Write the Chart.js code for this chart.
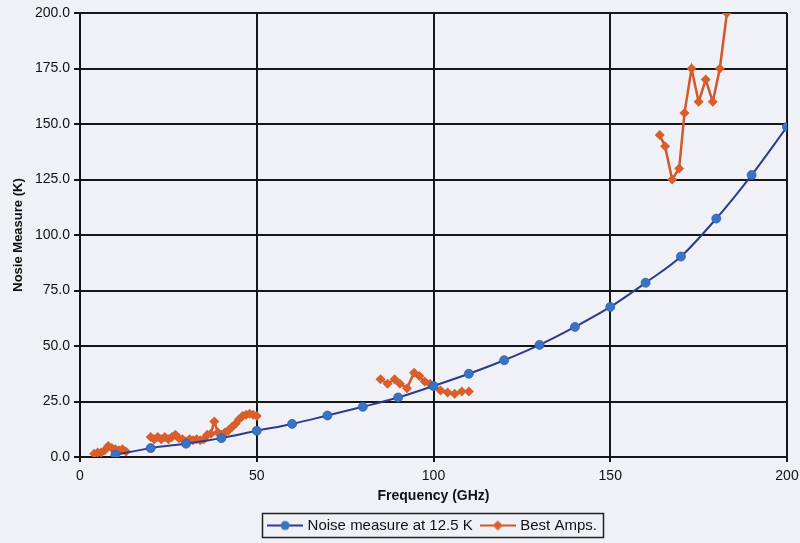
<!DOCTYPE html>
<html>
<head>
<meta charset="utf-8">
<title>Noise measure vs frequency</title>
<script src="https://cdn.jsdelivr.net/npm/chart.js@4.4.1/dist/chart.umd.min.js"></script>
<style>
  html, body { margin: 0; padding: 0; background: #eff1f6; }
  #wrap { width: 800px; height: 543px; position: relative; }
</style>
</head>
<body>
<div id="wrap"><canvas id="chart" width="800" height="543"></canvas></div>
<script>
// Noise measure at 12.5 K (smoothed curve)
const noiseFreq  = [10, 20, 30, 40, 50, 60, 70, 80, 90, 100, 110, 120, 130, 140, 150, 160, 170, 180, 190, 200];
const noiseValue = [1, 4, 6, 8.5, 11.8, 14.9, 18.7, 22.6, 26.8, 32, 37.5, 43.6, 50.5, 58.6, 67.6, 78.5, 90.3, 107.4, 127, 148.7];

// Best amplifiers reported; null entries break the line between bands
const ampFreq  = [4, 5, 6, 7, 8, 9, 10, 11, 12, 13,
                  15,
                  20, 21, 22, 23, 24, 25, 26, 27, 28, 29, 30, 31, 32, 33, 34, 35, 36, 37, 38, 39, 40,
                  41, 42, 43, 44, 45, 46, 47, 48, 49, 50,
                  70,
                  85, 87, 89, 90.5, 92.5, 94.5, 96, 97.5, 99, 100, 102, 104, 106, 108, 110,
                  140,
                  164, 165.5, 167.5, 169.5, 171, 173, 175, 177, 179, 181, 183];
const ampNoise = [1.5, 2, 2, 3, 5, 4, 3.5, 3, 3.5, 2.5,
                  null,
                  9, 8, 9, 8, 9, 8, 9, 10, 8.5, 8, 7, 8, 7.5, 8, 7.5, 8, 10, 10.5, 16, 11, 10,
                  11, 12, 13.5, 15, 17, 18.5, 19, 19.5, 19, 18.5,
                  null,
                  35, 33, 35, 33, 31, 38, 36.5, 34, 33, 32, 30, 29, 28.5, 29.5, 29.5,
                  null,
                  145, 140, 125, 130, 155, 175, 160, 170, 160, 175, 200];

const xTicks = [0, 50, 100, 150, 200];

const BLUE_LINE = '#2b3c8e', BLUE_DOT = '#3b73c3';
const ORANGE_LINE = '#d3572a', ORANGE_DOT = '#d85f2b';
const FONT = '"Liberation Sans", Arial, sans-serif';

// Legend swatch: short line with the series marker in the middle
function swatch(lineColor, dotColor, shape) {
  const c = document.createElement('canvas');
  c.width = 36; c.height = 12;
  const g = c.getContext('2d');
  g.strokeStyle = lineColor; g.lineWidth = 2;
  g.beginPath(); g.moveTo(0, 6); g.lineTo(36, 6); g.stroke();
  g.fillStyle = dotColor;
  g.beginPath();
  if (shape === 'circle') {
    g.arc(18, 6, 4.5, 0, Math.PI * 2);
  } else {
    g.moveTo(18, 1); g.lineTo(23, 6); g.lineTo(18, 11); g.lineTo(13, 6); g.closePath();
  }
  g.fill();
  return c;
}

// Centre the legend under the plot area rather than the whole canvas,
// and draw a frame round it
const legendFrame = {
  id: 'legendFrame',
  afterLayout(chart) {
    const lg = chart.legend, area = chart.chartArea;
    if (!lg) return;
    const shift = (area.left + area.right) / 2 - (lg.left + lg.right) / 2;
    lg.left += shift; lg.right += shift;
  },
  afterDraw(chart) {
    const lg = chart.legend;
    if (!lg || !lg.legendHitBoxes || !lg.legendHitBoxes.length) return;
    let l = Infinity, r = -Infinity, t = Infinity, b = -Infinity;
    lg.legendHitBoxes.forEach(h => {
      l = Math.min(l, h.left); r = Math.max(r, h.left + h.width);
      t = Math.min(t, h.top); b = Math.max(b, h.top + h.height);
    });
    const ctx = chart.ctx;
    ctx.save();
    ctx.strokeStyle = '#222';
    ctx.lineWidth = 1.5;
    ctx.strokeRect(Math.round(l - 8) + 0.5, Math.round(t - 5) + 0.5, Math.round(r - l + 14), Math.round(b - t + 9));
    ctx.restore();
  }
};

const ctx = document.getElementById('chart').getContext('2d');
new Chart(ctx, {
  type: 'line',
  data: {
    datasets: [
      {
        label: 'Noise measure at 12.5 K',
        data: noiseFreq.map((f, i) => ({ x: f, y: noiseValue[i] })),
        borderColor: BLUE_LINE,
        backgroundColor: BLUE_DOT,
        borderWidth: 2,
        pointStyle: 'circle',
        pointRadius: 4.5,
        pointBorderWidth: 0.8,
        pointBorderColor: '#2f5fae',
        pointBackgroundColor: BLUE_DOT,
        tension: 0.4,
        cubicInterpolationMode: 'monotone',
        fill: false
      },
      {
        label: 'Best Amps.',
        data: ampFreq.map((f, i) => ({ x: f, y: ampNoise[i] })),
        borderColor: ORANGE_LINE,
        backgroundColor: ORANGE_DOT,
        borderWidth: 2.5,
        pointStyle: 'rectRot',
        pointRadius: 5,
        pointBorderWidth: 0,
        pointBackgroundColor: ORANGE_DOT,
        spanGaps: false,
        tension: 0,
        fill: false
      }
    ]
  },
  options: {
    responsive: false,
    animation: false,
    events: [],
    layout: { padding: { left: 0, right: 13, top: 13, bottom: 0 } },
    plugins: {
      tooltip: { enabled: false },
      legend: {
        position: 'bottom',
        labels: {
          usePointStyle: true,
          pointStyleWidth: 30,
          padding: 10,
          color: '#111',
          font: { family: FONT, size: 15 },
          generateLabels(chart) {
            return [
              { text: 'Noise measure at 12.5 K', pointStyle: swatch(BLUE_LINE, BLUE_DOT, 'circle'),
                fillStyle: BLUE_DOT, strokeStyle: BLUE_LINE, lineWidth: 0, datasetIndex: 0, fontColor: '#111' },
              { text: 'Best Amps.', pointStyle: swatch(ORANGE_LINE, ORANGE_DOT, 'diamond'),
                fillStyle: ORANGE_DOT, strokeStyle: ORANGE_LINE, lineWidth: 0, datasetIndex: 1, fontColor: '#111' }
            ];
          }
        }
      }
    },
    scales: {
      x: {
        type: 'linear',
        min: 0, max: 200,
        afterBuildTicks(scale) { scale.ticks = xTicks.map(v => ({ value: v })); },
        afterFit(scale) { scale.height = 51; scale.paddingRight = 0; scale.paddingLeft = 0; },
        grid: { color: '#161616', lineWidth: 2, tickLength: 5, drawTicks: true },
        border: { display: true, color: '#161616', width: 2 },
        ticks: {
          color: '#111', padding: 6,
          font: { family: FONT, size: 14 }
        },
        title: {
          display: true, text: 'Frequency (GHz)', color: '#111',
          padding: { top: 2, bottom: 3 },
          font: { family: FONT, size: 14, weight: 'bold' }
        }
      },
      y: {
        min: 0, max: 200,
        ticks: {
          stepSize: 25, color: '#111', padding: 4,
          font: { family: FONT, size: 14 },
          callback: v => Number(v).toFixed(1)
        },
        afterFit(scale) { scale.width = 80; },
        grid: { color: '#161616', lineWidth: 2, tickLength: 6, drawTicks: true },
        border: { display: true, color: '#161616', width: 2 },
        title: {
          display: true, text: 'Nosie Measure (K)', color: '#111',
          padding: { top: 11, bottom: 4 },
          font: { family: FONT, size: 13, weight: 'bold' }
        }
      }
    }
  },
  plugins: [legendFrame]
});
</script>
</body>
</html>
